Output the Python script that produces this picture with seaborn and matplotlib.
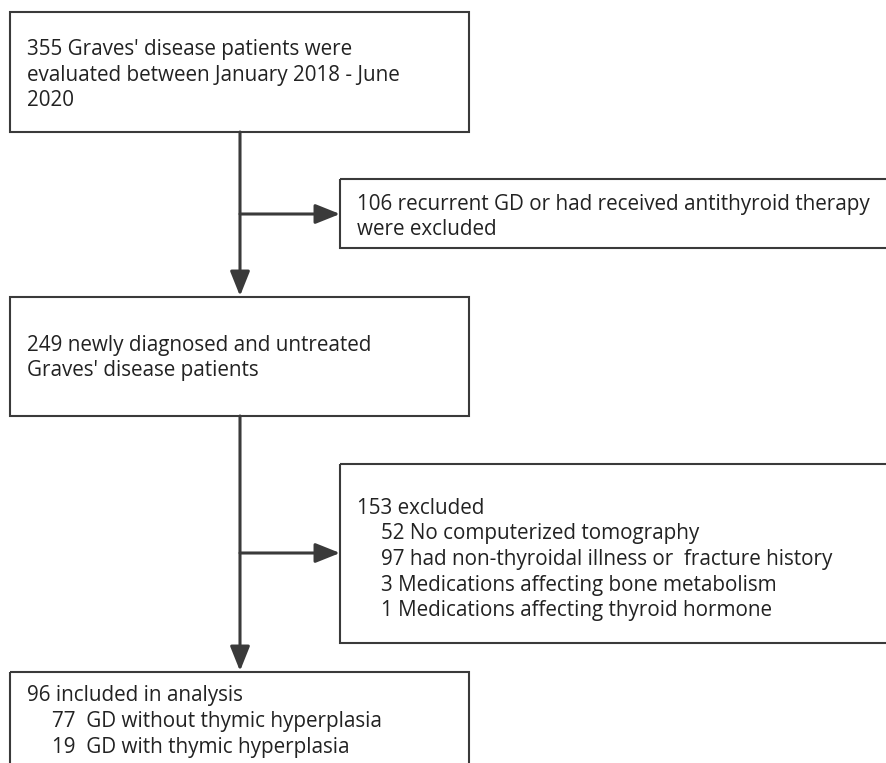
import matplotlib
matplotlib.use("Agg")
import matplotlib.pyplot as plt
import seaborn as sns
from matplotlib.patches import Rectangle, FancyArrowPatch

# flow chart content
main_labels = [
    "355 Graves' disease patients were\nevaluated between January 2018 - June\n2020",
    "249 newly diagnosed and untreated\nGraves' disease patients",
    "96 included in analysis",
]
excluded_labels = [
    "106 recurrent GD or had received antithyroid therapy\nwere excluded",
    "153 excluded",
]
excluded_sub = [
    "52 No computerized tomography",
    "97 had non-thyroidal illness or  fracture history",
    "3 Medications affecting bone metabolism",
    "1 Medications affecting thyroid hormone",
]
included_sub = [
    "77  GD without thymic hyperplasia",
    "19  GD with thymic hyperplasia",
]

# layout in pixel units (y goes down)
W, H = 887, 763
main_boxes = [(10, 12, 469, 132), (10, 297, 469, 416), (10, 672, 469, 800)]
side_boxes = [(340, 179, 900, 248), (340, 464, 900, 643)]
trunk_x = 240
branch_y = [214, 553]
line_col = "#3a3a3a"
text_col = "#222222"

sns.set_theme(style="white")
plt.rcParams["font.family"] = ["Open Sans", "DejaVu Sans"]

fig = plt.figure(figsize=(W / 100, H / 100), dpi=100)
ax = fig.add_axes([0, 0, 1, 1])
ax.set_xlim(0, W)
ax.set_ylim(H, 0)
ax.axis("off")

for x0, y0, x1, y1 in main_boxes + side_boxes:
    ax.add_patch(Rectangle((x0, y0), x1 - x0, y1 - y0, fill=False,
                           edgecolor=line_col, linewidth=1.5))


def arrow(p0, p1):
    ax.add_patch(FancyArrowPatch(p0, p1, arrowstyle="-|>,head_length=15,head_width=6",
                                 mutation_scale=1, color=line_col, linewidth=2.2,
                                 shrinkA=0, shrinkB=0))


# trunk arrows and side branches
for i in range(2):
    top = main_boxes[i][3]
    bottom = main_boxes[i + 1][1] - 1
    arrow((trunk_x, top), (trunk_x, bottom))
    arrow((trunk_x, branch_y[i]), (side_boxes[i][0], branch_y[i]))

fs = 14.9
kw = dict(fontsize=fs, color=text_col, va="center", ha="left", linespacing=1.27)

ax.text(27, 75, main_labels[0], **kw)
ax.text(27, 358, main_labels[1], **kw)
ax.text(27, 695, main_labels[2], **kw)
for j, s in enumerate(included_sub):
    ax.text(52, 722 + 26 * j, s, **kw)

ax.text(357, 217, excluded_labels[0], **kw)
ax.text(357, 508, excluded_labels[1], **kw)
for j, s in enumerate(excluded_sub):
    ax.text(381, 534 + 25.5 * j, s, **kw)

fig.savefig("out.png", dpi=100, facecolor="white")
